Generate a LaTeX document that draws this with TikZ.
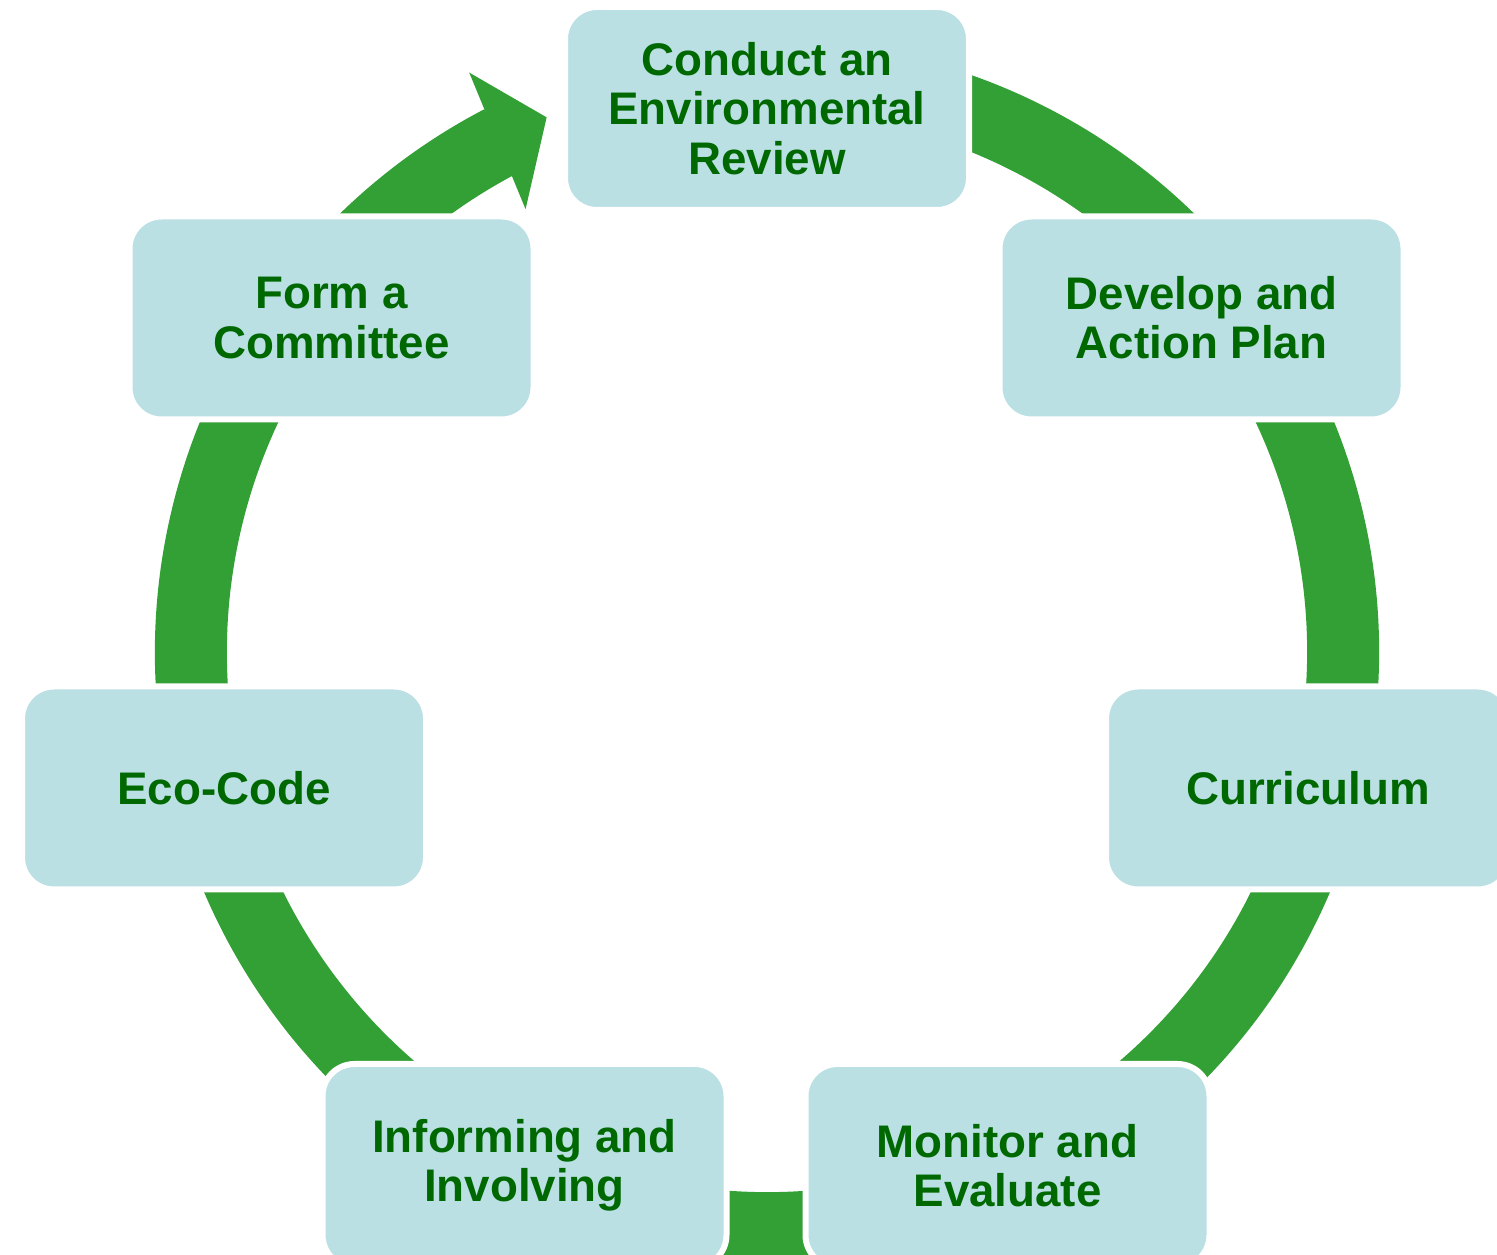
\documentclass[tikz,border=0pt]{standalone}
\usepackage{fontspec}
\setmainfont{Liberation Sans}
\usepackage{tikz}
\usetikzlibrary{calc}
\definecolor{ringgreen}{RGB}{51,160,53}
\definecolor{boxblue}{RGB}{186,224,228}
\definecolor{textgreen}{RGB}{0,104,0}

\begin{document}
\begin{tikzpicture}[
	stage/.style={draw=white, line width=0.6mm, fill=boxblue, rounded corners=3.2mm, minimum width=4.04cm, minimum height=2.03cm, align=center, text=textgreen, font=\fontsize{13pt}{14pt}\selectfont\bfseries},
	ring/.style={draw=ringgreen, line width=7.2mm}
]
	\useasboundingbox (0,0) rectangle (14.97,12.55);
	\coordinate (c) at (7.67,6.03);
	\draw[ring] ($(c)+(75:5.76)$) arc[start angle=75, end angle=-242.5, radius=5.76];
	\fill[ringgreen] ($(c)+(117.2:6.515)$) -- ($(c)+(112.4:5.783)$) -- ($(c)+(118.6:5.044)$) -- cycle;
	\node[stage] (review) at (7.67,11.465) {Conduct an\\Environmental\\Review};
	\node[stage] (plan) at (12.015,9.37) {Develop and\\Action Plan};
	\node[stage] (curriculum) at (13.08,4.67) {Curriculum};
	\node[stage] (monitor) at (10.075,0.895) {Monitor and\\Evaluate};
	\node[stage] (informing) at (5.245,0.895) {Informing and\\Involving};
	\node[stage] (ecocode) at (2.24,4.67) {Eco-Code};
	\node[stage] (committee) at (3.315,9.37) {Form a\\Committee};
\end{tikzpicture}
\end{document}
